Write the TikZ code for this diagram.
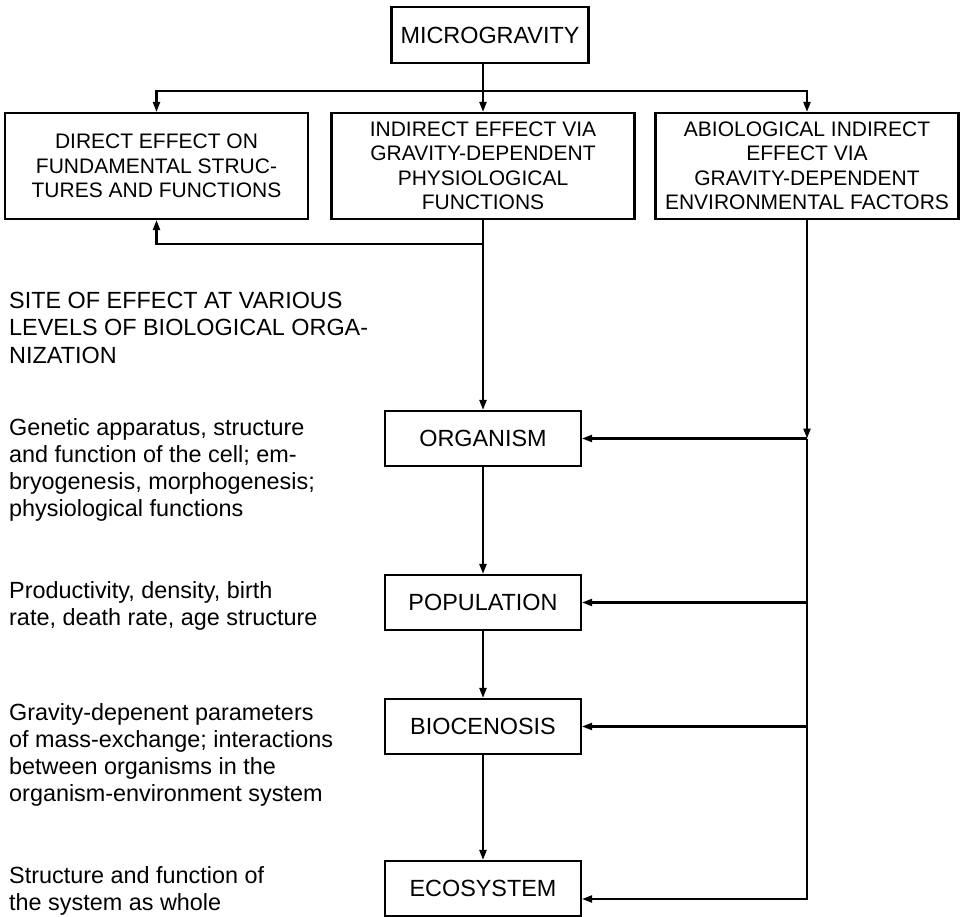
\documentclass[tikz,border=0pt]{standalone}
\usepackage{fontspec}
\setmainfont{Liberation Sans}
\usetikzlibrary{arrows.meta}
\begin{document}
\begin{tikzpicture}[x=1pt,y=-1pt,
  box/.style={draw, line width=2.2pt, align=center, inner sep=0pt},
  topbox/.style={box, minimum width=303pt, minimum height=106pt, font=\fontsize{21}{24.5}\selectfont},
  levbox/.style={box, minimum width=196pt, minimum height=55pt, font=\fontsize{23.4}{27}\selectfont},
  lt/.style={anchor=base west, inner sep=0pt, font=\fontsize{23.4}{27}\selectfont},
  con/.style={line width=2.2pt},
  arr/.style={con, -{Triangle[length=10pt,width=7pt]}}]
\useasboundingbox (0,0) rectangle (964,917);

% boxes
\node[levbox, minimum width=197pt, minimum height=56pt] (micro) at (490,35) {MICROGRAVITY};
\node[topbox] (dir) at (156.5,166) {DIRECT EFFECT ON\\FUNDAMENTAL STRUC-\\TURES AND FUNCTIONS};
\node[topbox] (mid) at (483,166) {INDIRECT EFFECT VIA\\GRAVITY-DEPENDENT\\PHYSIOLOGICAL\\FUNCTIONS};
\node[topbox] (abio) at (807,166) {ABIOLOGICAL INDIRECT\\EFFECT VIA\\GRAVITY-DEPENDENT\\ENVIRONMENTAL FACTORS};
\node[levbox] (org) at (483,438.5) {ORGANISM};
\node[levbox] (pop) at (483,602.5) {POPULATION};
\node[levbox] (bio) at (483,726.5) {BIOCENOSIS};
\node[levbox] (eco) at (483,888.5) {ECOSYSTEM};

% helper coordinates
\coordinate (dist) at (0,91);
\coordinate (fb) at (0,244);
\coordinate (ecoin) at ([yshift=-10.5pt]eco.east);

% connectors
\draw[arr] (micro.south -| mid.north) -- (mid.north);
\draw[arr] (dist -| mid) -- (dist -| dir) -- (dir.north);
\draw[arr] (dist -| mid) -- (dist -| abio) -- (abio.north);
\draw[arr] (mid.south) -- (org.north);
\draw[arr] (fb -| mid) -- (fb -| dir) -- (dir.south);
\draw[arr] (org.south) -- (pop.north);
\draw[arr] (pop.south) -- (bio.north);
\draw[arr] (bio.south) -- (eco.north);
\draw[arr] (abio.south) -- (org.east -| abio);
\draw[arr] (org.east -| abio) -- (ecoin -| abio) -- (ecoin);
\draw[arr] (org.east -| abio) -- (org.east);
\draw[arr] (pop.east -| abio) -- (pop.east);
\draw[arr] (bio.east -| abio) -- (bio.east);

% left texts
\foreach \t [count=\i] in {SITE OF EFFECT AT VARIOUS, LEVELS OF BIOLOGICAL ORGA-, NIZATION}
  \node[lt] (site\i) at (9,{309+27*(\i-1)}) {\t};
\foreach \t [count=\i] in {{Genetic apparatus, structure}, {and function of the cell; em-}, {bryogenesis, morphogenesis;}, physiological functions}
  \node[lt] (gen\i) at (9,{435+27*(\i-1)}) {\t};
\foreach \t [count=\i] in {{Productivity, density, birth}, {rate, death rate, age structure}}
  \node[lt] (prod\i) at (9,{598+27*(\i-1)}) {\t};
\foreach \t [count=\i] in {Gravity-depenent parameters, {of mass-exchange; interactions}, between organisms in the, organism-environment system}
  \node[lt] (grav\i) at (9,{720+27*(\i-1)}) {\t};
\foreach \t [count=\i] in {Structure and function of, the system as whole}
  \node[lt] (struc\i) at (9,{883+27*(\i-1)}) {\t};
\end{tikzpicture}
\end{document}
